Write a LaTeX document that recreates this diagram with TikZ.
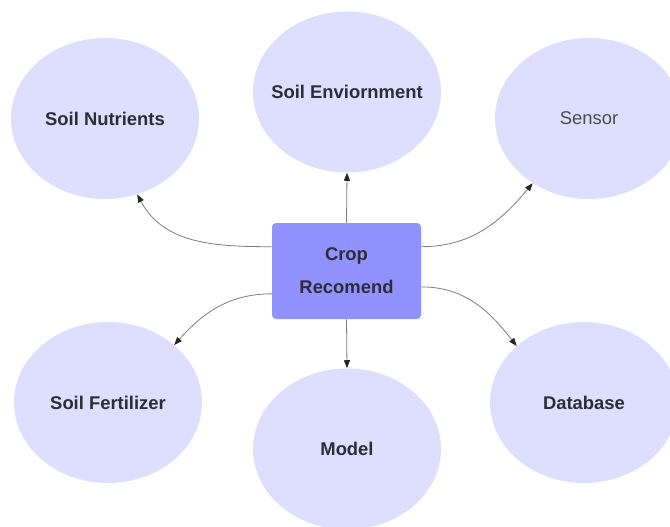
\documentclass[tikz,border=0pt]{standalone}
\usepackage{fontspec}
\setmainfont{Liberation Sans}
\usepackage{xcolor}
\usepackage{tikz}
\usetikzlibrary{shapes.geometric, arrows.meta}
\definecolor{bubble}{RGB}{222,222,255}
\definecolor{hubfill}{RGB}{145,145,255}
\definecolor{labeltext}{RGB}{45,45,55}
\definecolor{linkgray}{RGB}{125,125,125}

\begin{document}
\begin{tikzpicture}[
    x=0.75pt, y=-0.75pt,
    every node/.style={font=\fontsize{13.8}{24.75}\selectfont\bfseries, text=labeltext},
    topic/.style={ellipse, fill=bubble, minimum width=141pt, minimum height=120.75pt, inner sep=0pt},
    plain_label/.style={font=\fontsize{13.8}{16}\selectfont\mdseries, text=black!70},
    hub/.style={rectangle, fill=hubfill, minimum width=111.75pt, minimum height=72pt, rounded corners=3pt, align=center},
    link/.style={-{Triangle[length=6pt, width=4.5pt, color=black!85]}, draw=linkgray, line width=0.6pt}
]

% Canvas
\fill[white] (0,0) rectangle (670,527);
\useasboundingbox (0,0) rectangle (670,527);

% Nodes
\node[hub] (crop) at (346.5,271) {Crop\\Recomend};
\node[topic, label={center:Soil Nutrients}] (nutrients) at (105,118.5) {};
\node[topic, label={center:Soil Enviornment}] (environment) at (347,92) {};
\node[topic, label={[plain_label]center:Sensor}] (sensor) at (589,118.5) {};
\node[topic, label={center:Soil Fertilizer}] (fertilizer) at (108,402.5) {};
\node[topic, label={center:Model}] (model) at (347,449) {};
\node[topic, label={center:Database}] (database) at (584,402.5) {};

% Edges (all leave the hub)
\draw[link] (crop.162) to[out=180, in=-62] (nutrients.-67);
\draw[link] (crop.north) -- (environment.south);
\draw[link] (crop.18) to[out=0, in=-130] (sensor.-131);
\draw[link] (crop.197) to[out=180, in=48] (fertilizer.41);
\draw[link] (crop.south) -- (model.north);
\draw[link] (crop.-12) to[out=0, in=128] (database.140);

\end{tikzpicture}
\end{document}
